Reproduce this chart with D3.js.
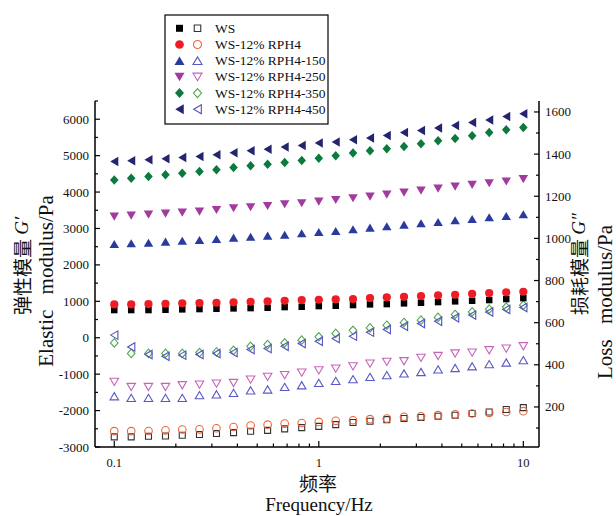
<!DOCTYPE html>
<html><head><meta charset="utf-8">
<script src="https://cdn.jsdelivr.net/npm/d3@7"></script>
<style>
html,body{margin:0;padding:0;background:#fff;}
text{font-family:"Liberation Serif","Times New Roman",serif;fill:#111;}
.cjk{font-family:"Noto Sans CJK SC",sans-serif;}
</style></head>
<body>
<svg id="c" width="616" height="516"></svg>
<script>
// ---- data ----
const freq = [0.1,0.121,0.147,0.178,0.215,0.261,0.316,0.383,0.464,0.562,0.681,0.825,1,1.21,1.47,1.78,2.15,2.61,3.16,3.83,4.64,5.62,6.81,8.25,10];
const seriesNames = ["WS","WS-12% RPH4","WS-12% RPH4-150","WS-12% RPH4-250","WS-12% RPH4-350","WS-12% RPH4-450"];
// storage modulus G' (left axis), Pa
const gp_WS   = [760,760,760,768,779,787,795,806,814,823,842,850,869,878,897,916,924,944,960,979,999,1015,1034,1062,1089];
const gp_RPH4 = [916,916,924,933,944,952,960,971,988,999,1015,1034,1043,1054,1062,1089,1109,1125,1144,1164,1180,1208,1227,1246,1263];
const gp_150  = [2574,2594,2610,2638,2665,2684,2712,2748,2775,2803,2830,2869,2904,2932,2979,3023,3061,3105,3144,3179,3226,3262,3309,3344,3391];
const gp_250  = [3325,3353,3380,3408,3435,3463,3509,3556,3584,3619,3666,3694,3738,3784,3831,3875,3930,3985,4040,4095,4150,4197,4244,4288,4354];
const gp_350  = [4334,4381,4425,4472,4518,4563,4609,4673,4719,4766,4810,4865,4931,4994,5069,5132,5187,5250,5324,5407,5470,5544,5635,5709,5773];
const gp_450  = [4838,4857,4884,4912,4948,4975,5022,5077,5132,5178,5234,5278,5344,5371,5434,5481,5553,5635,5690,5756,5828,5910,5976,6075,6149];
// loss modulus G'' (right axis), Pa
const gpp_WS   = [58,58,61,62,66,69,74,78,85,89,96,102,108,116,126,132,140,145,150,156,161,169,176,188,197];
const gpp_RPH4 = [85,85,86,89,93,94,99,105,112,116,121,124,129,134,137,142,145,153,156,161,165,169,172,176,180];
const gpp_150  = [251,243,243,243,243,256,260,267,279,283,295,303,314,324,332,343,351,359,366,378,385,393,403,411,422];
const gpp_250  = [319,295,295,295,303,306,311,314,330,343,351,363,374,382,393,406,414,417,433,442,454,458,469,477,488];
const gpp_350  = [504,454,454,454,454,458,461,469,488,496,504,517,533,549,564,575,588,601,612,625,639,651,664,674,683];
const gpp_450  = [541,485,449,441,446,449,454,458,473,477,488,501,512,525,536,555,568,583,596,607,623,636,651,663,672];
const leftTicks = [-3000,-2000,-1000,0,1000,2000,3000,4000,5000,6000];
const rightTicks = [200,400,600,800,1000,1200,1400,1600];
const xTicks = [0.1,1,10];

// ---- styles ----
const shapes = ["square","circle","up","down","diamond","left"];
const fillCol = ["#000000","#ee1c24","#2b3a9e","#a33a9d","#0c7a3c","#25256f"];
const openCol = ["#333333","#f0653a","#5a58c4","#c764b8","#52a852","#5552c0"];

const svg = d3.select("#c");
const L = 95, R = 539, T = 101, B = 447;
const x = d3.scaleLog().domain([0.0805, 11.93]).range([L, R]);
const yL = d3.scaleLinear().domain([-3000, 6500]).range([B, T]);
const yR = d3.scaleLinear().domain([10, 1652]).range([B, T]);

function symPath(shape, s) {
  const h = s/2;
  switch(shape){
    case "square": return `M${-h},${-h}H${h}V${h}H${-h}Z`;
    case "circle": return d3.symbol(d3.symbolCircle, Math.PI*h*h)();
    case "up": return `M0,${-h*0.85}L${h},${h*0.85}L${-h},${h*0.85}Z`;
    case "down": return `M0,${h*0.85}L${h},${-h*0.85}L${-h},${-h*0.85}Z`;
    case "diamond": return `M0,${-h}L${h*0.9},0L0,${h}L${-h*0.9},0Z`;
    case "left": return `M${-h*0.85},0L${h*0.85},${-h}L${h*0.85},${h}Z`;
  }
}
const fillSize = [6.5,8.2,9.5,9.5,9.5,9.5];
const openSize = [6,7.6,8.5,8.5,8.5,8.5];

const gpAll = [gp_WS,gp_RPH4,gp_150,gp_250,gp_350,gp_450];
const gppAll = [gpp_WS,gpp_RPH4,gpp_150,gpp_250,gpp_350,gpp_450];

// ---- axes ----
const ax = svg.append("g").attr("stroke","#000").attr("fill","none");
ax.append("line").attr("x1",L).attr("x2",R).attr("y1",B).attr("y2",B).attr("stroke-width",1.5);
ax.append("line").attr("x1",L).attr("x2",L).attr("y1",T).attr("y2",B).attr("stroke-width",1.5);
ax.append("line").attr("x1",R).attr("x2",R).attr("y1",T).attr("y2",B).attr("stroke-width",1.5);

// left ticks (inward)
d3.range(-3000, 6501, 500).forEach(v => {
  const major = v % 1000 === 0;
  ax.append("line").attr("x1",L).attr("x2",L+(major?5:3)).attr("y1",yL(v)).attr("y2",yL(v)).attr("stroke-width",1.2);
});
svg.append("g").selectAll("text").data(leftTicks).join("text")
  .attr("x",L-6).attr("y",d=>yL(d)).attr("text-anchor","end").attr("dominant-baseline","central")
  .attr("font-size",13).text(d=>d);

// right ticks (inward)
d3.range(100, 1601, 100).forEach(v => {
  const major = v % 200 === 0;
  ax.append("line").attr("x1",R).attr("x2",R-(major?5:3)).attr("y1",yR(v)).attr("y2",yR(v)).attr("stroke-width",1.2);
});
svg.append("g").selectAll("text").data(rightTicks).join("text")
  .attr("x",R+6).attr("y",d=>yR(d)).attr("text-anchor","start").attr("dominant-baseline","central")
  .attr("font-size",13).text(d=>d);

// bottom ticks (inward), log minor
const minorX = [];
[0.1,1].forEach(dec => { for (let k=1;k<=9;k++) minorX.push(dec*k); });
minorX.push(10);
minorX.forEach(v => {
  const major = xTicks.some(t => Math.abs(t - v) < 1e-9);
  ax.append("line").attr("x1",x(v)).attr("x2",x(v)).attr("y1",B).attr("y2",B-(major?6:3.5)).attr("stroke-width",1.2);
});
svg.append("g").selectAll("text").data(xTicks).join("text")
  .attr("x",d=>x(d)).attr("y",B+16).attr("text-anchor","middle").attr("dominant-baseline","central")
  .attr("font-size",12.5).text(d=>d);

// ---- data marks ----
const plot = svg.append("g");
[0,1,2,3,4,5].forEach(i => {
  plot.append("g").selectAll("path").data(gppAll[i]).join("path")
    .attr("transform",(d,j)=>`translate(${x(freq[j])},${yR(d)})`)
    .attr("d",symPath(shapes[i],openSize[i]))
    .attr("fill","none").attr("stroke",openCol[i]).attr("stroke-width",1.1);
});
[0,1,2,3,4,5].forEach(i => {
  plot.append("g").selectAll("path").data(gpAll[i]).join("path")
    .attr("transform",(d,j)=>`translate(${x(freq[j])},${yL(d)})`)
    .attr("d",symPath(shapes[i],fillSize[i]))
    .attr("fill",fillCol[i]);
});

// ---- legend ----
const lg = svg.append("g");
lg.append("rect").attr("x",165).attr("y",15).attr("width",163).attr("height",109)
  .attr("fill","#fff").attr("stroke","#000").attr("stroke-width",1.2);
seriesNames.forEach((n,i) => {
  const yy = 28.3 + i*16.2;
  lg.append("path").attr("transform",`translate(179.5,${yy})`).attr("d",symPath(shapes[i],fillSize[i]+0.5)).attr("fill",fillCol[i]);
  lg.append("path").attr("transform",`translate(197.5,${yy})`).attr("d",symPath(shapes[i],openSize[i]+0.5)).attr("fill","none").attr("stroke",openCol[i]).attr("stroke-width",1.1);
  lg.append("text").attr("x",215).attr("y",yy).attr("dominant-baseline","central").attr("font-size",13.5).text(n);
});

// ---- titles ----
const t1 = svg.append("text").attr("transform","translate(21,266) rotate(-90)").attr("text-anchor","middle")
  .attr("dominant-baseline","central").attr("font-size",19);
t1.append("tspan").attr("class","cjk").text("弹性模量 ");
t1.append("tspan").attr("font-style","italic").text("G′");
svg.append("text").attr("transform","translate(46,281) rotate(-90)").attr("text-anchor","middle")
  .attr("dominant-baseline","central").attr("font-size",21).attr("word-spacing",10).text("Elastic modulus/Pa");

const t2 = svg.append("text").attr("transform","translate(578,264) rotate(-90)").attr("text-anchor","middle")
  .attr("dominant-baseline","central").attr("font-size",19);
t2.append("tspan").attr("class","cjk").text("损耗模量 ");
t2.append("tspan").attr("font-style","italic").text("G″");
svg.append("text").attr("transform","translate(605,302) rotate(-90)").attr("text-anchor","middle")
  .attr("dominant-baseline","central").attr("font-size",21).attr("word-spacing",10).text("Loss modulus/Pa");

svg.append("text").attr("class","cjk").attr("x",318).attr("y",482).attr("text-anchor","middle")
  .attr("dominant-baseline","central").attr("font-size",19).text("频率");
svg.append("text").attr("x",319).attr("y",504).attr("text-anchor","middle")
  .attr("dominant-baseline","central").attr("font-size",19).text("Frequency/Hz");
</script>
</body></html>
